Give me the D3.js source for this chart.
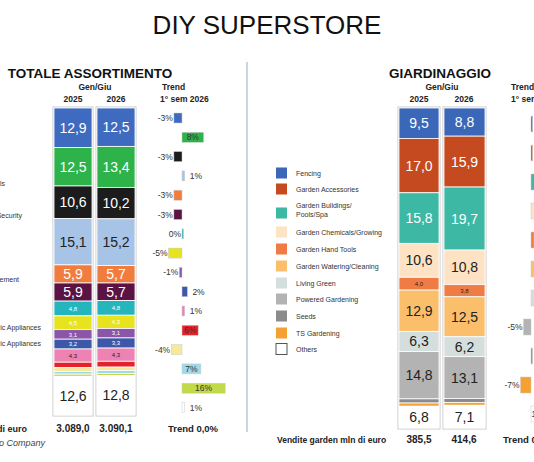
<!DOCTYPE html><html><head><meta charset="utf-8">
<script src="https://cdn.jsdelivr.net/npm/d3@7"></script>
<style>body{margin:0;background:#fff}svg{font-family:"Liberation Sans",Arial,sans-serif}</style></head><body>
<svg id="c" width="534" height="462"></svg>
<script>
// ---- data: TOTALE ASSORTIMENTO ----
const totCats=["Building Materials","Decorating","Doors, Windows & Security","Hardware","Kitchen & Bath","Home Improvement","Lighting","Tools","Electric Appliances","Small Electric Appliances","Storage","Heating","Home Textiles","Paints","Wood","Others"];
const totColors=["#3e6bbf","#2eb34a","#1c1c1c","#a7c3e6","#f07c3e","#5a1343","#25b5bd","#e8e31f","#8b56a8","#3d58a8","#ee82b3","#e5222a","#f8e89a","#9fd9ea","#c2d94a","#ffffff"];
const tot2025=[12.9,12.5,10.6,15.1,5.9,5.9,4.8,4.5,3.1,3.2,4.3,1.8,1.2,0.9,0.7,12.6];
const tot2026=[12.5,13.4,10.2,15.2,5.7,5.7,4.8,4.3,3.1,3.3,4.3,1.9,1.1,1.0,0.7,12.8];
const totTrend=[-3,8,-3,1,-3,-3,0,-5,-1,2,1,6,-4,7,16,1];
const totTotals=["3.089,0","3.090,1"];
const totSideLabels=["Decorating Materials","Doors, Windows & Security","Home Improvement","Small Electric Appliances","Large Electric Appliances"];
// ---- data: GIARDINAGGIO ----
const gCats=["Fencing","Garden Accessories","Garden Buildings/ Pools/Spa","Garden Chemicals/Growing","Garden Hand Tools","Garden Watering/Cleaning","Living Green","Powered Gardening","Seeds","TS Gardening","Others"];
const gColors=["#3b67b8","#c64a1f","#3db8a4","#fde2c4","#f07c45","#fbbf6c","#d4dedc","#b3b3b3","#8b8b8b","#f5a132","#ffffff"];
const g2025=[9.5,17.0,15.8,10.6,4.0,12.9,6.3,14.8,1.3,1.0,6.8];
const g2026=[8.8,15.9,19.7,10.8,3.8,12.5,6.2,13.1,1.2,0.9,7.1];
const gTrend=[1,1,30,8,2,4,5,-5,1,-7,12];
const gTotals=["385,5","414,6"];

const svg=d3.select("#c");
const fmt=v=>d3.format(".1f")(v).replace(".",",");
const txt=(x,y,s,o={})=>svg.append("text").attr("x",x).attr("y",y).text(s)
  .attr("font-size",o.fs||9).attr("font-weight",o.fw||"normal").attr("text-anchor",o.a||"start")
  .attr("fill",o.c||"#222").attr("font-style",o.it||"normal");
const darkText=c=>{const l=d3.hsl(c).l;return l<0.6?"#fff":"#222"};

txt(267,34,"DIY SUPERSTORE",{fs:26,a:"middle",c:"#111"});
svg.append("line").attr("x1",247).attr("x2",247).attr("y1",62).attr("y2",432).attr("stroke","#b9c9dc").attr("stroke-width",1.5);

function stack(vals,colors,x0,w,y0,y1){
  const tot=d3.sum(vals);
  const y=d3.scaleLinear().domain([0,tot]).range([y0,y1]);
  let acc=0;
  svg.append("rect").attr("x",x0-1).attr("y",y0-1).attr("width",w+2).attr("height",y1-y0+2).attr("fill","none").attr("stroke","#c8c8c8");
  vals.forEach((v,i)=>{
    const a=y(acc),b=y(acc+v);acc+=v;
    svg.append("rect").attr("x",x0).attr("y",a).attr("width",w).attr("height",b-a).attr("fill",colors[i]).attr("stroke","#fff").attr("stroke-width",0.8);
    if(v>=2.5){const fs=v>=5.5?14:6;
      txt(x0+w/2,(a+b)/2+fs*0.36,fmt(v),{fs,a:"middle",c:colors[i]==="#ffffff"?"#222":darkText(colors[i])});}
  });
}
function trend(vals,colors,zero,k,rowY,h,fs){
  vals.forEach((v,i)=>{
    const x=d3.scaleLinear().domain([0,1]).range([zero,zero+k]);
    const a=Math.min(x(0),x(v)),w=Math.max(Math.abs(x(v)-x(0)),1.5);
    svg.append("rect").attr("x",a).attr("y",rowY[i]-h/2).attr("width",w).attr("height",h).attr("fill",colors[i]).attr("stroke","#ccc").attr("stroke-width",0.5);
    const s=v+"%";
    if(v<=0) txt(a-1,rowY[i]+3,s,{fs,a:"end",c:"#333"});
    else if(w>16) txt(a+w/2,rowY[i]+3,s,{fs,a:"middle",c:"#333"});
    else txt(a+w+5,rowY[i]+3,s,{fs,c:"#333"});
  });
}

// ---- left panel ----
txt(90,78,"TOTALE ASSORTIMENTO",{fs:13.5,fw:"bold",a:"middle",c:"#111"});
txt(95,90,"Gen/Giu",{fs:8.5,fw:"bold",a:"middle"});
txt(73,102,"2025",{fs:8.5,fw:"bold",a:"middle"});txt(116,102,"2026",{fs:8.5,fw:"bold",a:"middle"});
txt(162,90,"Trend",{fs:8.5,fw:"bold"});txt(160,102,"1° sem 2026",{fs:8.5,fw:"bold"});
stack(tot2025,totColors,54,38,108,415);
stack(tot2026,totColors,97,38,108,415);
const totRows=d3.range(16).map(i=>118+i*19.3);
trend(totTrend,totColors,182,2.7,totRows,10,8.5);
[[186,5],[218,22],[282,19],[330,41],[346,41]].forEach(([y,x],i)=>txt(x,y,totSideLabels[i],{fs:7,a:"end",c:"#333"}));
txt(27,432,"Vendite totali mln di euro",{fs:9,fw:"bold",a:"end"});
txt(73,432,totTotals[0],{fs:10,fw:"bold",a:"middle"});txt(116,432,totTotals[1],{fs:10,fw:"bold",a:"middle"});
txt(193,432,"Trend 0,0%",{fs:9.5,fw:"bold",a:"middle"});
txt(45,446,"Fonte: Studio Company",{fs:9,it:"italic",a:"end",c:"#444"});

// ---- right panel ----
txt(440,78,"GIARDINAGGIO",{fs:13.5,fw:"bold",a:"middle",c:"#111"});
txt(442,90,"Gen/Giu",{fs:8.5,fw:"bold",a:"middle"});
txt(419,102,"2025",{fs:8.5,fw:"bold",a:"middle"});txt(464,102,"2026",{fs:8.5,fw:"bold",a:"middle"});
txt(511,90,"Trend",{fs:8.5,fw:"bold"});txt(511,102,"1° sem 2026",{fs:8.5,fw:"bold"});
stack(g2025,gColors,399,40,108,428);
stack(g2026,gColors,444,41,108,428);
const gRows=d3.range(11).map(i=>124+i*29);
trend(gTrend,gColors,531,1.5,gRows,16,8.5);
const legY=[173,189,213,232,249,266,283,299,316,333,349];
gCats.forEach((c,i)=>{
  svg.append("rect").attr("x",276).attr("y",legY[i]-5.5).attr("width",11).attr("height",11).attr("fill",gColors[i]).attr("stroke",i==10?"#555":"none");
  if(i===2){txt(296,legY[i]-5,"Garden Buildings/",{fs:7,c:"#333"});txt(296,legY[i]+4,"Pools/Spa",{fs:7,c:"#333"});}
  else txt(296,legY[i]+2.5,c,{fs:7,c:"#333"});
});
txt(277,443,"Vendite garden mln di euro",{fs:8.5,fw:"bold"});
txt(419,443,gTotals[0],{fs:10,fw:"bold",a:"middle"});txt(464,443,gTotals[1],{fs:10,fw:"bold",a:"middle"});
txt(503,443,"Trend 0,0%",{fs:9.5,fw:"bold"});
</script></body></html>
